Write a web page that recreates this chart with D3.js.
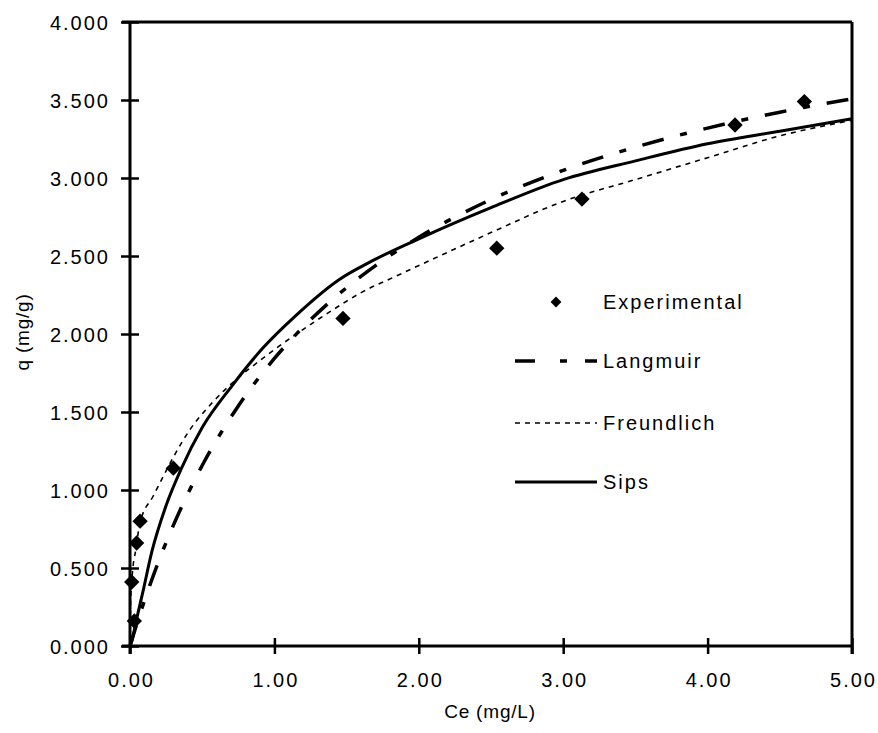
<!DOCTYPE html>
<html lang="en">
<head>
    <meta charset="UTF-8">
    <title>Adsorption Isotherms</title>
    <script src="https://d3js.org/d3.v7.min.js"></script>
    <style>
        body { margin: 0; background: #fff; }
        svg text {
            font-family: "Liberation Sans", Arial, sans-serif;
            fill: #000;
        }
        .tick-label { font-size: 20px; letter-spacing: 2px; }
        .axis-title { font-size: 19px; letter-spacing: 0.8px; }
        .legend-label { font-size: 20px; letter-spacing: 2px; }
    </style>
</head>
<body>
    <svg id="viz" width="878" height="733"></svg>

    <script>
        // Experimental points
        const expCe = [0.012, 0.03, 0.046, 0.07, 0.30, 1.475, 2.54, 3.13, 4.19, 4.67];
        const expQ  = [0.41, 0.16, 0.66, 0.80, 1.14, 2.10, 2.55, 2.865, 3.34, 3.49];

        // Langmuir fit
        const langCe = [0, 0.02, 0.05, 0.1, 0.2, 0.3, 0.4, 0.5, 0.75, 1.0, 1.25, 1.5, 1.75, 2.0, 2.5, 3.0, 3.5, 4.0, 4.5, 5.0];
        const langQ  = [0, 0.061, 0.15, 0.29, 0.547, 0.773, 0.975, 1.157, 1.539, 1.843, 2.091, 2.297, 2.471, 2.62, 2.862, 3.049, 3.198, 3.32, 3.422, 3.508];

        // Freundlich fit (dotted curve)
        const freuCe = [0, 0.003, 0.012, 0.04, 0.07, 0.16, 0.21, 0.30, 0.41, 0.57, 0.75, 0.90, 1.0, 1.2, 1.38, 1.61, 1.84, 2.05, 2.5, 3.0, 3.5, 4.0, 4.5, 5.0];
        const freuQ  = [0, 0.25, 0.41, 0.62, 0.79, 0.96, 1.05, 1.21, 1.38, 1.56, 1.72, 1.83, 1.90, 2.03, 2.14, 2.27, 2.37, 2.46, 2.65, 2.85, 2.99, 3.13, 3.27, 3.37];

        // Sips fit (solid curve)
        const sipsCe = [0, 0.012, 0.05, 0.09, 0.15, 0.25, 0.357, 0.5, 0.7, 0.92, 1.15, 1.45, 1.68, 2.0, 2.5, 3.0, 3.5, 4.0, 4.5, 5.0];
        const sipsQ  = [0, 0.03, 0.19, 0.35, 0.60, 0.90, 1.14, 1.40, 1.66, 1.91, 2.12, 2.35, 2.47, 2.61, 2.81, 2.99, 3.11, 3.22, 3.30, 3.38];

        const xTicks = [0, 1, 2, 3, 4, 5];
        const yTicks = [0, 0.5, 1, 1.5, 2, 2.5, 3, 3.5, 4];

        const legendNames = ["Experimental", "Langmuir", "Freundlich", "Sips"];

        const svg = d3.select("#viz");

        const x = d3.scaleLinear().domain([0, 5]).range([130, 852]);
        const y = d3.scaleLinear().domain([0, 4]).range([646, 22]);

        const styles = {
            Langmuir:   { width: 3.5, dash: "22,17,7,17" },
            Freundlich: { width: 1.6, dash: "5,5" },
            Sips:       { width: 3,   dash: null }
        };

        // Frame: top and right borders
        svg.append("line")
            .attr("x1", 122).attr("x2", x(5))
            .attr("y1", y(4)).attr("y2", y(4))
            .attr("stroke", "#000").attr("stroke-width", 3);
        svg.append("line")
            .attr("x1", x(5)).attr("x2", x(5))
            .attr("y1", y(4)).attr("y2", y(0) + 8)
            .attr("stroke", "#000").attr("stroke-width", 3);

        // Axes (ticks cross the axis line)
        const xAxis = d3.axisBottom(x).tickValues(xTicks).tickSize(0).tickFormat(d3.format(".2f"));
        const gx = svg.append("g").attr("transform", `translate(0,${y(0)})`).call(xAxis);
        gx.select(".domain").attr("stroke", "#000").attr("stroke-width", 3)
            .attr("d", `M${x(0) - 8},0H${x(5)}`);
        gx.selectAll(".tick line").attr("y1", -8).attr("y2", 8)
            .attr("stroke", "#000").attr("stroke-width", 2.5);
        gx.selectAll(".tick text").attr("class", "tick-label")
            .attr("y", 0).attr("dy", 41).attr("dx", 1)
            .attr("font-size", null).attr("font-family", null);

        const yAxis = d3.axisLeft(y).tickValues(yTicks).tickSize(0).tickFormat(d3.format(".3f"));
        const gy = svg.append("g").attr("transform", `translate(${x(0)},0)`).call(yAxis);
        gy.select(".domain").attr("stroke", "#000").attr("stroke-width", 3)
            .attr("d", `M0,${y(0) + 8}V${y(4)}`);
        gy.selectAll(".tick line").attr("x1", -9).attr("x2", 9)
            .attr("stroke", "#000").attr("stroke-width", 2.5);
        gy.selectAll(".tick text").attr("class", "tick-label")
            .attr("x", -20).attr("dy", "0.35em").attr("font-size", null).attr("font-family", null);

        // Axis titles
        svg.append("text").attr("class", "axis-title")
            .attr("x", 490).attr("y", 718).attr("text-anchor", "middle")
            .text("Ce (mg/L)");
        svg.append("text").attr("class", "axis-title")
            .attr("transform", "translate(29,332) rotate(-90)")
            .attr("text-anchor", "middle")
            .text("q (mg/g)");

        // Fitted curves
        const line = d3.line()
            .x(d => x(d[0]))
            .y(d => y(d[1]))
            .curve(d3.curveMonotoneX);

        const curves = [
            { name: "Freundlich", ce: freuCe, q: freuQ },
            { name: "Langmuir",   ce: langCe, q: langQ },
            { name: "Sips",       ce: sipsCe, q: sipsQ }
        ];

        curves.forEach(c => {
            const pts = c.ce.map((v, i) => [v, c.q[i]]);
            svg.append("path")
                .datum(pts)
                .attr("d", line)
                .attr("fill", "none")
                .attr("stroke", "#000")
                .attr("stroke-width", styles[c.name].width)
                .attr("stroke-dasharray", styles[c.name].dash);
        });

        // Experimental diamonds
        const diamond = d3.symbol().type(d3.symbolDiamond2).size(150);
        svg.selectAll(".pt")
            .data(expCe.map((v, i) => [v, expQ[i]]))
            .enter().append("path")
            .attr("class", "pt")
            .attr("d", diamond)
            .attr("transform", d => `translate(${x(d[0])},${y(d[1])})`)
            .attr("fill", "#000");

        // Legend
        const legendY = [302, 361, 423, 482];
        legendNames.forEach((name, i) => {
            const ly = legendY[i];
            if (name === "Experimental") {
                svg.append("path")
                    .attr("d", d3.symbol().type(d3.symbolDiamond2).size(75))
                    .attr("transform", `translate(556,${ly})`)
                    .attr("fill", "#000");
            } else {
                svg.append("line")
                    .attr("x1", 515).attr("x2", 597)
                    .attr("y1", ly).attr("y2", ly)
                    .attr("stroke", "#000")
                    .attr("stroke-width", styles[name].width)
                    .attr("stroke-dasharray", name === "Langmuir" ? "20,25,7,18,12,40" : styles[name].dash);
            }
            svg.append("text").attr("class", "legend-label")
                .attr("x", 603).attr("y", ly + 7)
                .text(name);
        });
    </script>
</body>
</html>
